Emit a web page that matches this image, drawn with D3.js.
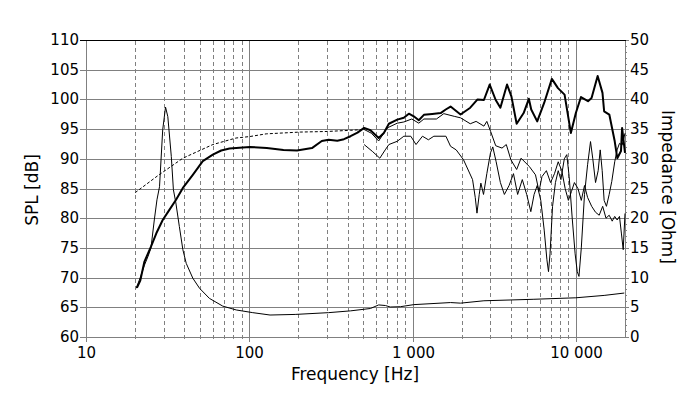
<!DOCTYPE html>
<html>
<head>
<meta charset="utf-8">
<script src="https://d3js.org/d3.v7.min.js"></script>
<style>
  body { margin: 0; background: #fff; }
</style>
</head>
<body>
<script>
// ---- data ----
var xTickValues = [10, 100, 1000, 10000];
var xTickLabels = ["10", "100", "1 000", "10 000"];
var xMinorValues = [20, 30, 40, 50, 60, 70, 80, 90,
                    200, 300, 400, 500, 600, 700, 800, 900,
                    2000, 3000, 4000, 5000, 6000, 7000, 8000, 9000];
var splTicks = [60, 65, 70, 75, 80, 85, 90, 95, 100, 105, 110];
var ohmTicks = [0, 5, 10, 15, 20, 25, 30, 35, 40, 45, 50];
var ohmMinor = [1, 2, 3, 4, 6, 7, 8, 9, 11, 12, 13, 14, 16, 17, 18, 19, 21, 22, 23, 24,
                26, 27, 28, 29, 31, 32, 33, 34, 36, 37, 38, 39, 41, 42, 43, 44, 46, 47, 48, 49];

// on-axis SPL (thick)
var splFreq = [20.5, 21.5, 22.8, 25.0, 27.0, 29.5, 32.4, 35.6, 39.2, 45.1, 51.9, 59.8, 67.3, 75.7, 91.3,
               101, 128, 162, 196, 242, 278, 306, 346, 380, 417, 460, 505, 552, 620, 667, 716, 806,
               884, 949, 1017, 1092, 1173, 1320, 1486, 1596, 1709, 1967, 2256, 2500, 2735, 2967, 3230,
               3450, 3790, 4030, 4340, 4790, 5153, 5330, 5800, 6395, 7130, 7770, 8530, 9320, 10000,
               10750, 11870, 12480, 13600, 14560, 14900, 16030, 17300, 17940, 18900, 19200, 20000];
var splDb = [68.3, 69.5, 72.7, 75.2, 77.5, 79.7, 81.4, 83.1, 85.1, 87.3, 89.6, 90.7, 91.4, 91.75, 91.9,
             92.0, 91.8, 91.5, 91.4, 91.8, 93.0, 93.2, 93.05, 93.3, 93.8, 94.4, 95.2, 94.8, 93.5, 94.35, 95.9, 96.6,
             96.9, 97.6, 97.15, 96.5, 97.4, 97.55, 97.7, 98.3, 98.8, 97.45, 98.6, 100.0, 99.9, 102.5, 99.9,
             98.6, 102.5, 100.5, 95.9, 97.7, 100.1, 98.3, 96.3, 99.4, 103.45, 101.9, 100.8, 94.35, 97.7,
             100.4, 99.7, 100.25, 103.95, 101.1, 98.0, 97.45, 92.95, 90.1, 91.3, 95.2, 91.0];

// off-axis 30 deg (thin)
var off30Freq = [500, 560, 620, 700, 806, 884, 989, 1092, 1173, 1400, 1554, 1800, 1967, 2256, 2450, 2735,
                 2850, 3007, 3230, 3530, 3750, 4000, 4340, 4620, 5190, 5660, 5950, 6200, 6600, 7000, 7400,
                 7800, 8200, 8600, 9000, 9400, 9800, 10300, 10800, 11300, 11800, 12500, 13200, 13900,
                 14600, 15300, 16000, 16700, 17300, 17900, 18500, 19000, 19500, 20000];
var off30Db = [95.0, 94.3, 93.0, 95.2, 96.0, 96.2, 96.7, 96.0, 96.7, 96.7, 97.6, 97.15, 96.9, 95.9, 96.3, 95.5,
               96.3, 94.6, 92.2, 91.8, 92.4, 89.85, 88.2, 90.1, 88.7, 87.3, 84.5, 87.0, 88.0, 86.0, 87.5,
               89.5, 88.0, 85.0, 83.0, 84.5, 86.0, 85.0, 83.0, 85.5, 83.5, 82.0, 81.0, 80.5,
               82.0, 80.0, 80.5, 79.5, 80.3, 79.7, 80.3, 77.5, 74.7, 80.8];

// off-axis 60 deg (thin)
var off60Freq = [505, 570, 630, 680, 716, 806, 884, 975, 1050, 1150, 1250, 1350, 1600, 1709, 1850, 2050,
                 2330, 2420, 2480, 2560, 2620, 2720, 2850, 3000, 3100, 3250, 3450, 3650, 3900, 4150, 4400,
                 4700, 5000, 5300, 5550, 5800, 6100, 6400, 6650, 6800, 6950, 7200, 7500, 7800, 8100, 8500,
                 8800, 9100, 9500, 9900, 10200, 10450, 10800, 11300, 11800, 12300, 12700, 13200, 13700,
                 14100, 14500, 14900, 15400, 16000, 16600, 17300, 17900, 18500, 19200, 20000];
var off60Db = [92.4, 91.2, 90.1, 91.5, 92.4, 92.95, 93.8, 93.8, 92.4, 93.8, 93.2, 93.8, 93.8, 92.1, 91.5, 89.85,
               86.5, 83.5, 80.85, 84.0, 85.9, 84.0, 87.5, 91.0, 92.0, 89.5, 86.0, 84.0, 85.5, 87.5, 84.0,
               86.5, 84.0, 81.1, 84.0, 85.5, 83.0, 78.0, 73.0, 71.0, 74.0, 82.0, 86.0, 88.0, 86.5, 90.0,
               90.7, 87.0, 80.0, 74.0, 71.0, 70.2, 75.0, 84.0, 89.0, 92.9, 90.0, 86.0, 88.0,
               91.5, 88.0, 83.0, 82.0, 84.0, 86.2, 89.5, 91.5, 92.6, 92.3, 94.3];

// dashed reference response
var dashFreq = [20, 27.5, 39.2, 59.8, 83, 101, 127, 205, 300, 417, 490];
var dashDb = [84.3, 87.15, 90.1, 92.4, 93.5, 93.75, 94.2, 94.5, 94.6, 94.8, 94.9];

// impedance (thin, right axis)
var impFreq = [20.3, 21.5, 22.8, 24, 25, 26.2, 27.2, 28.2, 29.5, 30.7, 31.7, 33.3, 34.3, 35.5, 37.3, 39.2,
               41.1, 45.1, 49.6, 57, 68.8, 83.3, 105, 134, 191, 306, 417, 552, 620, 682, 730, 842, 1017,
               1709, 1967, 2735, 5534, 10000, 14900, 19800];
var impOhm = [8.2, 10.0, 12.1, 13.6, 15.0, 19.7, 23.1, 25.3, 34.9, 38.7, 37.1, 30.4, 24.8, 22.6, 18.6, 14.7,
              12.4, 9.9, 8.2, 6.5, 5.2, 4.55, 4.1, 3.7, 3.8, 4.1, 4.4, 4.8, 5.4, 5.3, 5.05, 5.1, 5.45,
              5.8, 5.7, 6.1, 6.35, 6.6, 7.0, 7.4];

// ---- layout ----
var width = 700, height = 399;
var plotLeft = 86, plotRight = 625, plotTop = 40, plotBottom = 337;
var gridColor = "#808080";
var font = "'DejaVu Sans', Verdana, sans-serif";

var svg = d3.select("body").append("svg")
    .attr("width", width)
    .attr("height", height);

svg.append("rect").attr("width", width).attr("height", height).attr("fill", "#fff");

// scales (rounded copies for crisp grid and axes)
var x = d3.scaleLog().domain([10, 20000]).range([plotLeft, plotRight]);
var y = d3.scaleLinear().domain([60, 110]).range([plotBottom, plotTop]);
var z = d3.scaleLinear().domain([0, 50]).range([plotBottom, plotTop]);
var xr = x.copy().interpolate(d3.interpolateRound);
var yr = y.copy().interpolate(d3.interpolateRound);
var zr = z.copy().interpolate(d3.interpolateRound);

// horizontal grid
svg.append("g").selectAll("line")
    .data(splTicks.slice(1, -1))
    .enter().append("line")
    .attr("x1", plotLeft).attr("x2", plotRight)
    .attr("y1", function(d) { return yr(d) + 0.5; })
    .attr("y2", function(d) { return yr(d) + 0.5; })
    .attr("stroke", gridColor);

// minor vertical dashed grid
svg.append("g").selectAll("line")
    .data(xMinorValues)
    .enter().append("line")
    .attr("x1", function(d) { return xr(d) + 0.5; })
    .attr("x2", function(d) { return xr(d) + 0.5; })
    .attr("y1", plotTop + 1).attr("y2", plotBottom + 5)
    .attr("stroke", gridColor)
    .attr("stroke-dasharray", "4,3");

// decade vertical grid
svg.append("g").selectAll("line")
    .data(xTickValues.slice(1))
    .enter().append("line")
    .attr("x1", function(d) { return xr(d) + 0.5; })
    .attr("x2", function(d) { return xr(d) + 0.5; })
    .attr("y1", plotTop).attr("y2", plotBottom)
    .attr("stroke", gridColor);

function styleAxis(g) {
    g.attr("font-family", font).attr("font-size", 15);
    g.selectAll("path, line").attr("stroke", gridColor);
    g.selectAll("text").attr("fill", "#000");
}

// bottom axis
svg.append("g")
    .attr("transform", "translate(0," + plotBottom + ")")
    .call(d3.axisBottom(xr).tickValues(xTickValues)
        .tickFormat(function(d, i) { return xTickLabels[i]; })
        .tickSize(5).tickSizeOuter(0).tickPadding(5))
    .call(styleAxis);

// left axis
svg.append("g")
    .attr("transform", "translate(" + plotLeft + ",0)")
    .call(d3.axisLeft(yr).tickValues(splTicks).tickSize(6).tickSizeOuter(0).tickPadding(1))
    .call(styleAxis);

// right axis with minor ticks
svg.append("g")
    .attr("transform", "translate(" + plotRight + ",0)")
    .call(d3.axisRight(zr).tickValues(ohmMinor).tickSize(2).tickSizeOuter(0).tickFormat(""))
    .call(styleAxis);
svg.append("g")
    .attr("transform", "translate(" + plotRight + ",0)")
    .call(d3.axisRight(zr).tickValues(ohmTicks).tickSize(4).tickSizeOuter(0).tickPadding(1))
    .call(styleAxis);

// top frame line
svg.append("line")
    .attr("x1", plotLeft - 6).attr("x2", plotRight + 1)
    .attr("y1", plotTop + 0.5).attr("y2", plotTop + 0.5)
    .attr("stroke", "#000");

// ---- curves ----
function zip(a, b) { return a.map(function(d, i) { return [d, b[i]]; }); }

var lineDb = d3.line()
    .x(function(d) { return x(d[0]); })
    .y(function(d) { return y(d[1]); });
var lineOhm = d3.line()
    .x(function(d) { return x(d[0]); })
    .y(function(d) { return z(d[1]); });

svg.append("path").datum(zip(dashFreq, dashDb))
    .attr("d", lineDb).attr("fill", "none")
    .attr("stroke", "#000").attr("stroke-width", 1)
    .attr("stroke-dasharray", "3,2");

svg.append("path").datum(zip(impFreq, impOhm))
    .attr("d", lineOhm).attr("fill", "none")
    .attr("stroke", "#000").attr("stroke-width", 1);

svg.append("path").datum(zip(off60Freq, off60Db))
    .attr("d", lineDb).attr("fill", "none")
    .attr("stroke", "#000").attr("stroke-width", 1);

svg.append("path").datum(zip(off30Freq, off30Db))
    .attr("d", lineDb).attr("fill", "none")
    .attr("stroke", "#000").attr("stroke-width", 1);

svg.append("path").datum(zip(splFreq, splDb))
    .attr("d", lineDb).attr("fill", "none")
    .attr("stroke", "#000").attr("stroke-width", 2)
    .attr("stroke-linejoin", "round");

// ---- axis titles ----
svg.append("text")
    .attr("transform", "translate(38,190) rotate(-90)")
    .attr("text-anchor", "middle")
    .attr("font-family", font).attr("font-size", 17)
    .text("SPL [dB]");

svg.append("text")
    .attr("transform", "translate(662,187) rotate(90)")
    .attr("text-anchor", "middle")
    .attr("font-family", font).attr("font-size", 17)
    .text("Impedance [Ohm]");

svg.append("text")
    .attr("x", 355).attr("y", 380)
    .attr("text-anchor", "middle")
    .attr("font-family", font).attr("font-size", 17)
    .text("Frequency [Hz]");
</script>
</body>
</html>
